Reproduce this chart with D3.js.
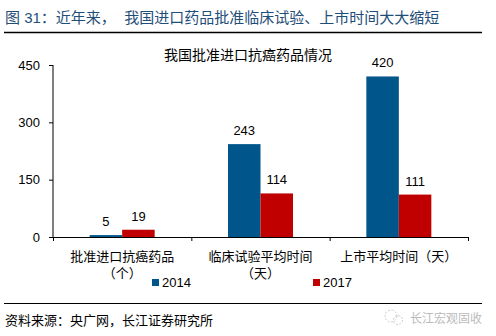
<!DOCTYPE html>
<html><head><meta charset="utf-8">
<script src="https://cdn.jsdelivr.net/npm/d3@7"></script>
<style>body{margin:0;background:#fff}svg{display:block}text{font-family:"Liberation Sans","Noto Sans CJK SC",sans-serif}</style>
</head><body><svg id="c" width="496" height="336"></svg>
<script>
const categories = [["批准进口抗癌药品","（个）"],["临床试验平均时间","（天）"],["上市平均时间（天）"]];
const seriesNames = ["2014","2017"];
const values2014 = [5,243,420];
const values2017 = [19,114,111];
const yTicks = [0,150,300,450];
const colors = ["#00558A","#C00000"];

const svg = d3.select("#c");
const L=53,R=468,T=65,B=237;
const x = d3.scaleBand().domain(d3.range(categories.length)).range([L,R]);
const x1 = d3.scaleBand().domain(seriesNames).range([0,65]);
const y = d3.scaleLinear().domain([0,450]).range([B,T]);

// header
svg.append("text").attr("x",5).attr("y",23).attr("font-size",15).attr("fill","#1F4E79")
  .attr("xml:space","preserve").text("图 31：近年来，  我国进口药品批准临床试验、上市时间大大缩短");
svg.append("line").attr("x1",4).attr("x2",482).attr("y1",32.5).attr("y2",32.5).attr("stroke","#000").attr("stroke-width",1.5);

// title
svg.append("text").attr("x",248).attr("y",60).attr("text-anchor","middle").attr("font-size",14).attr("fill","#000").text("我国批准进口抗癌药品情况");

// y axis
const ya = svg.append("g").attr("transform",`translate(${L},0)`).call(d3.axisLeft(y).tickValues(yTicks).tickSize(4).tickPadding(9));
ya.select(".domain").attr("stroke","#000").attr("d",`M0,${T}V${B}`);
ya.selectAll("text").attr("font-size",13).attr("fill","#000").attr("font-family",'"Liberation Sans",sans-serif');
ya.selectAll("line").attr("stroke","#000");

// bars
const data = categories.map((c,i)=>({i, vals:[values2014[i],values2017[i]]}));
const g = svg.append("g");
data.forEach(d=>{
  const gx = x(d.i)+(x.bandwidth()-65)/2;
  d.vals.forEach((v,j)=>{
    g.append("rect").attr("x",gx+x1(seriesNames[j])).attr("y",y(v)).attr("width",x1.bandwidth()).attr("height",B-y(v))
      .attr("fill",colors[j]);
    g.append("text").attr("x",gx+x1(seriesNames[j])+x1.bandwidth()/2).attr("y",y(v)-9).attr("text-anchor","middle")
      .attr("font-size",13).attr("fill","#000").text(v);
  });
});

// x axis
const xa = svg.append("g").attr("transform",`translate(0,${B})`);
xa.append("line").attr("x1",L).attr("x2",R).attr("y1",0.5).attr("y2",0.5).attr("stroke","#000");
[L, ...d3.range(categories.length).map(i=>x(i)+x.bandwidth())].forEach(t=>{
  xa.append("line").attr("x1",t+0.5).attr("x2",t+0.5).attr("y1",0).attr("y2",4).attr("stroke","#000");
});
categories.forEach((c,i)=>{
  c.forEach((line,k)=>{
    xa.append("text").attr("x",x(i)+x.bandwidth()/2).attr("y",24+k*17).attr("text-anchor","middle")
      .attr("font-size",13).attr("fill","#000").text(line);
  });
});

// legend
const legX=[152,313];
seriesNames.forEach((s,j)=>{
  svg.append("rect").attr("x",legX[j]).attr("y",279).attr("width",7).attr("height",7).attr("fill",colors[j]);
  svg.append("text").attr("x",legX[j]+10).attr("y",287).attr("font-size",13).attr("fill","#000").text(s);
});

// footer
svg.append("line").attr("x1",4).attr("x2",482).attr("y1",303.5).attr("y2",303.5).attr("stroke","#000").attr("stroke-width",1.2);
svg.append("text").attr("x",5).attr("y",325).attr("font-size",13).attr("fill","#000").text("资料来源：央广网，长江证券研究所");
svg.append("text").attr("x",410).attr("y",323).attr("font-size",12).attr("fill","#bbb").text("长江宏观固收");
svg.append("circle").attr("cx",391).attr("cy",316).attr("r",6).attr("fill","none").attr("stroke","#ccc").attr("stroke-dasharray","2,1.5");
svg.append("circle").attr("cx",398).attr("cy",320).attr("r",4.5).attr("fill","none").attr("stroke","#ccc").attr("stroke-dasharray","2,1.5");
</script></body></html>
